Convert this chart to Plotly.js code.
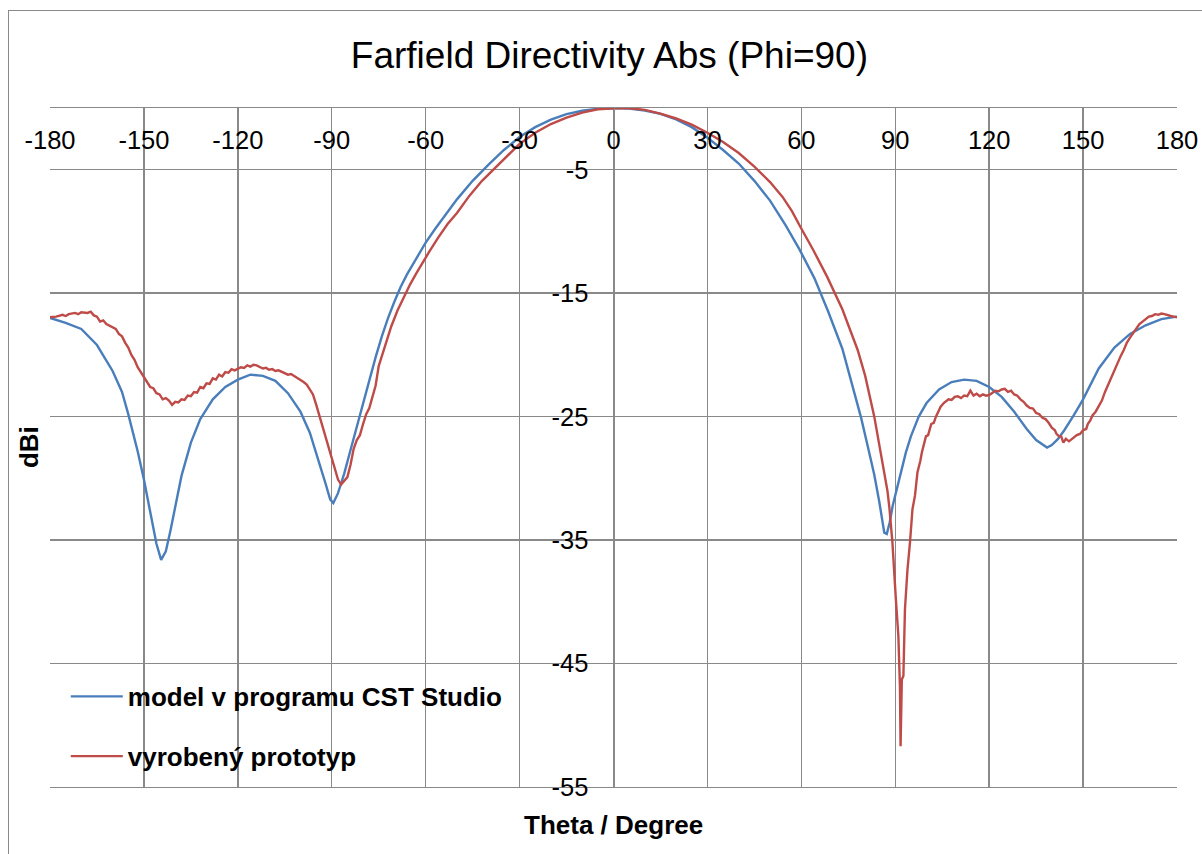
<!DOCTYPE html>
<html>
<head>
<meta charset="utf-8">
<script src="https://cdn.plot.ly/plotly-3.0.1.min.js"></script>
<style>
  html, body { margin: 0; padding: 0; background: #fff; }
  #wrap { position: relative; width: 1202px; height: 854px; overflow: hidden; }
  #chart { position: absolute; left: 0; top: 0; width: 1202px; height: 854px; }
  #frame { position: absolute; left: 8px; top: 10px; width: 1300px; height: 900px;
           border-left: 1.5px solid #8a8a8a; border-top: 1.5px solid #8a8a8a; pointer-events: none; }
</style>
</head>
<body>
<div id="wrap">
  <div id="chart"></div>
  <div id="frame"></div>
</div>
<script>
// ---- data ----
const chartTitle = "Farfield Directivity Abs (Phi=90)";
const xTitle = "Theta / Degree";
const yTitle = "dBi";
const seriesNames = ["model v programu CST Studio", "vyrobený prototyp"];

const modelTheta = [-180,-175,-170,-165,-160,-157,-155,-152,-150,-148,-146,-144.5,-143,-141.5,-140,-138,-135,-132,-128,-124,-120,-116,-112,-108,-104,-100,-97,-94,-92,-90.5,-89.5,-88,-86,-84,-81,-78,-76,-74,-72,-70,-68,-66,-64,-62,-60,-57,-54,-50,-45,-40,-35,-30,-25,-20,-15,-10,-5,0,5,10,15,20,25,30,35,40,45,50,55,59.4,64.2,68.6,73.1,76,79.1,81.4,83.3,84.9,86.5,87.3,88.2,89.2,90.5,92,93.4,95,97.5,100,104,108,112,116,120,124,128,132,135,138.5,140,142,144,147,150,155,160,165,170,175,180];
const modelDbi = [-17.0,-17.4,-17.9,-19.2,-21.3,-23.0,-24.8,-27.8,-30.1,-32.8,-35.3,-36.6,-35.9,-34.2,-32.3,-29.8,-27.1,-25.2,-23.6,-22.6,-22.0,-21.6,-21.7,-22.1,-23.1,-24.6,-26.3,-28.7,-30.4,-31.7,-32.0,-31.2,-29.6,-27.7,-24.8,-22.0,-20.2,-18.5,-17.0,-15.7,-14.5,-13.5,-12.6,-11.7,-10.9,-9.8,-8.8,-7.4,-5.9,-4.6,-3.4,-2.35,-1.55,-0.95,-0.5,-0.22,-0.06,0,-0.05,-0.2,-0.48,-0.92,-1.55,-2.4,-3.4,-4.5,-5.9,-7.5,-9.5,-11.45,-13.8,-16.5,-19.5,-22.1,-25.1,-27.6,-29.7,-31.9,-34.4,-34.5,-33.6,-32.2,-30.8,-29.2,-27.9,-26.6,-25.0,-23.9,-22.8,-22.2,-22.0,-22.1,-22.6,-23.4,-24.6,-26.0,-26.9,-27.5,-27.3,-26.8,-26.1,-24.9,-23.6,-21.1,-19.4,-18.3,-17.6,-17.1,-16.9];

const protoTheta = [-180,-178,-176,-175,-174,-172,-171,-170,-168,-167,-166,-165,-164,-163,-162,-160,-159,-158,-157,-156,-155,-154,-153,-152,-151,-150,-149,-148,-147,-146,-145,-144,-143,-142,-141,-140,-139,-138,-137,-136,-135,-134,-133,-132,-131,-130,-129,-128,-127,-126,-125,-124,-123,-122,-121,-120,-119,-118,-117,-116,-115,-114,-113,-112,-111,-110,-109,-108,-107,-106,-105,-104,-103,-102,-101,-100,-99,-98,-97,-96,-95,-94,-93,-92,-91,-90,-89,-88,-87,-86,-85,-84,-83,-82,-81,-80,-79,-78,-77,-76,-75,-73,-71,-69,-67,-65,-63,-61,-59,-56,-53,-50,-46,-42,-38,-34,-30,-25,-20,-15,-10,-5,0,2,5,10,15,20,25,30,35,40,45,50,54,57,59.4,63.8,68.3,73.1,78,80.4,83.3,85.2,86.5,87.5,88.1,89.1,90.2,91,91.5,91.7,92.1,92.6,93.1,93.9,94.7,95.5,96.3,97.1,98,98.5,99.8,100.5,101.5,102.3,103,104,104.5,105.5,106,107,108,109,110,111,112,113,114,115,116,117,118,119,120,121,122,123,124,125,126,127,128,129,130,131,132,133,134,135,136,137,138,139,140,141,141.5,142.3,143,143.7,144.5,145.5,146.5,147.3,148,149,150,151,151.5,152.3,153,154,155,156,157,158,159,160,161,162,163,164,165,166,167,168,169,170,171,172,173,174,175,176,177,178,179,180];
const protoDbi = [-16.95,-16.9,-16.75,-16.85,-16.7,-16.6,-16.7,-16.55,-16.6,-16.5,-16.8,-16.9,-17.3,-17.2,-17.5,-17.8,-17.9,-18.3,-18.5,-19.0,-19.4,-20.0,-20.4,-21.0,-21.4,-21.9,-22.2,-22.6,-22.7,-23.1,-23.2,-23.6,-23.5,-23.7,-24.05,-23.8,-23.85,-23.6,-23.65,-23.3,-23.35,-23.0,-23.05,-22.6,-22.7,-22.3,-22.35,-21.9,-22.0,-21.6,-21.75,-21.4,-21.45,-21.15,-21.25,-21.1,-21.0,-21.05,-20.85,-20.95,-20.8,-20.85,-21.0,-21.1,-21.05,-21.2,-21.15,-21.3,-21.25,-21.35,-21.5,-21.6,-21.55,-21.7,-21.85,-22.0,-22.2,-22.4,-22.8,-23.2,-24.0,-24.9,-25.8,-26.6,-27.4,-28.4,-29.4,-30.1,-30.5,-30.2,-29.9,-28.9,-27.6,-26.9,-26.5,-25.6,-24.8,-24.3,-23.4,-22.5,-20.9,-19.2,-17.7,-16.4,-15.3,-14.3,-13.4,-12.5,-11.7,-10.5,-9.4,-8.5,-7.1,-5.9,-4.9,-3.9,-2.9,-2.0,-1.3,-0.78,-0.38,-0.1,-0.02,0,-0.02,-0.15,-0.45,-0.85,-1.35,-2.0,-2.75,-3.65,-4.75,-6.0,-7.2,-8.35,-9.5,-11.5,-13.7,-16.3,-19.6,-21.7,-25.0,-27.7,-29.5,-31.0,-32.3,-35.2,-39.8,-42.8,-46.9,-51.7,-46.3,-46.0,-40.6,-37.4,-35.2,-32.5,-31.4,-29.5,-28.6,-27.9,-26.6,-26.5,-25.6,-25.5,-25.0,-24.5,-24.2,-23.9,-23.8,-23.6,-23.65,-23.4,-23.35,-23.5,-23.3,-23.35,-22.9,-23.3,-23.15,-23.35,-23.2,-23.3,-23.25,-23.05,-22.9,-22.95,-22.8,-22.75,-23.0,-22.9,-23.2,-23.3,-23.6,-23.8,-24.1,-24.3,-24.35,-24.7,-24.8,-25.1,-25.2,-25.5,-25.9,-26.1,-26.4,-26.6,-26.6,-27.1,-26.8,-27.0,-26.8,-26.7,-26.5,-26.4,-26.1,-26.0,-25.6,-25.3,-24.9,-24.6,-24.2,-23.7,-23.0,-22.4,-21.8,-21.3,-20.6,-20.1,-19.6,-19.0,-18.6,-18.2,-17.8,-17.5,-17.3,-17.1,-16.9,-16.85,-16.7,-16.75,-16.65,-16.7,-16.8,-16.85,-16.9,-16.95,-17.0,-17.0];

const xTicks = [-180,-150,-120,-90,-60,-30,0,30,60,90,120,150,180];
const yTicks = [-5,-15,-25,-35,-45,-55];

// ---- styles ----
const FONT = "Liberation Sans, Arial, sans-serif";
const GRID = "#898989";

const traces = [
  { x: modelTheta, y: modelDbi, name: seriesNames[0], type: "scatter", mode: "lines",
    line: { color: "#4A7EBB", width: 2.4 }, legendgroup: "a" },
  { x: protoTheta, y: protoDbi, name: seriesNames[1], type: "scatter", mode: "lines",
    line: { color: "#BE4B48", width: 2.4 }, legendgroup: "b" }
];

const layout = {
  width: 1202, height: 854,
  margin: { l: 50, r: 25, t: 108, b: 67 },
  paper_bgcolor: "#ffffff", plot_bgcolor: "#ffffff",
  font: { family: FONT, color: "#000" },
  title: { text: chartTitle, font: { size: 37, family: FONT, color: "#000" },
           x: 0.507, xref: "container", xanchor: "center", y: 0.936, yref: "container", yanchor: "middle" },
  showlegend: true,
  legend: { x: 0.014, y: 0.168, xanchor: "left", yanchor: "top", bgcolor: "rgba(0,0,0,0)",
            font: { size: 26, family: FONT, weight: "bold", color: "#000" },
            traceorder: "grouped", tracegroupgap: 23, itemwidth: 52 },
  xaxis: {
    range: [-180, 180], side: "top", tickmode: "array", tickvals: xTicks,
    ticktext: xTicks.map(String),
    ticks: "", ticklabelstandoff: -53, tickfont: { size: 25.5, family: FONT, color: "#000" },
    showgrid: true, gridcolor: GRID, gridwidth: 1.4,
    showline: true, linecolor: GRID, linewidth: 1.4, mirror: true,
    zeroline: false, fixedrange: true
  },
  yaxis: {
    range: [-55, 0], anchor: "free", position: 0.5, side: "left",
    tickmode: "array", tickvals: yTicks, ticktext: yTicks.map(String),
    ticks: "", ticklabelstandoff: 20, tickfont: { size: 25.5, family: FONT, color: "#000" },
    showgrid: true, gridcolor: GRID, gridwidth: 1.4,
    showline: true, linecolor: GRID, linewidth: 1.4,
    zeroline: false, fixedrange: true
  },
  yaxis2: {
    range: [-55, 0], overlaying: "y", anchor: "x", side: "left",
    showline: true, mirror: true, linecolor: GRID, linewidth: 1.4,
    showgrid: false, zeroline: false, showticklabels: false, ticks: "", fixedrange: true
  },
  annotations: [
    { text: xTitle, xref: "paper", yref: "paper", x: 0.5, y: -0.056, xanchor: "center", yanchor: "middle",
      showarrow: false, font: { size: 26, family: FONT, weight: "bold", color: "#000" } },
    { text: yTitle, xref: "paper", yref: "paper", x: -0.019, y: 0.5, xanchor: "center", yanchor: "middle",
      textangle: -90, showarrow: false, font: { size: 26, family: FONT, weight: "bold", color: "#000" } }
  ]
};

Plotly.newPlot("chart", traces, layout, { staticPlot: true, displayModeBar: false });
</script>
</body>
</html>
